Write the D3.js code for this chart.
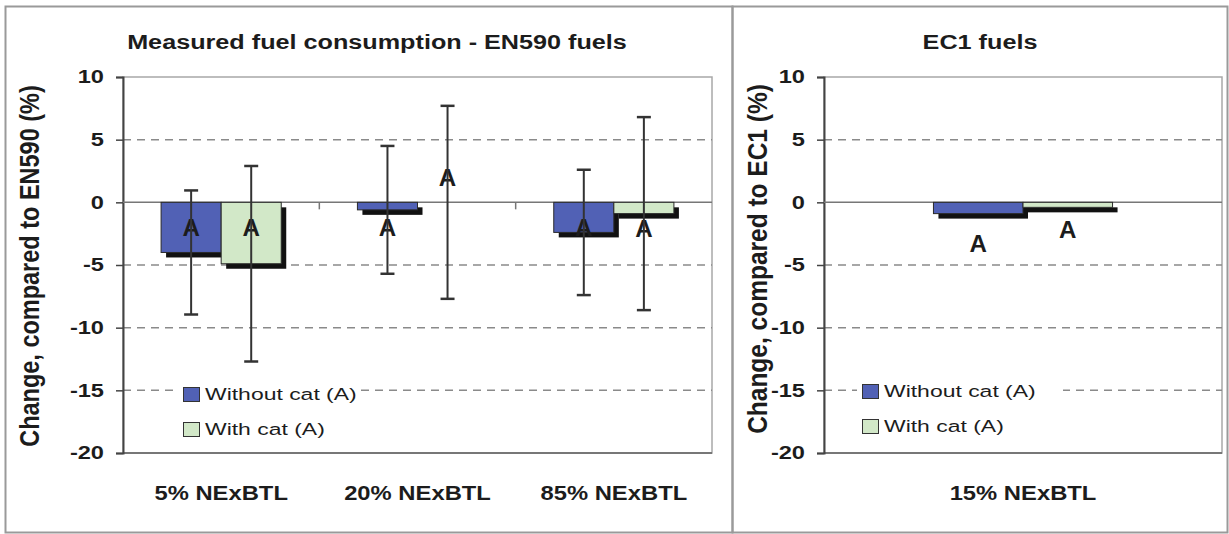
<!DOCTYPE html>
<meta charset="utf-8">
<style>
body { margin: 0; background: #fff; }
svg { display: block; }
text { font-family: "Liberation Sans", Arial, Helvetica, sans-serif; fill: #1c1c1c; }
.bold { font-weight: bold; }
</style>
<svg width="1229" height="534"></svg>
<script src="https://cdn.jsdelivr.net/npm/d3@7/dist/d3.min.js"></script>
<script>

// EN590 panel
var categoriesEN = ["5% NExBTL", "20% NExBTL", "85% NExBTL"];
var withoutCatEN = [-4.0, -0.6, -2.4];
var withCatEN = [-4.9, 0.0, -0.9];
var errWithoutEN = [4.95, 5.1, 5.0];
var errWithEN = [7.8, 7.7, 7.7];
var labelWithoutEN = [-2.0, -2.0, -2.0];
var labelWithEN = [-2.0, 2.0, -2.1];

// EC1 panel
var categoriesEC = ["15% NExBTL"];
var withoutCatEC = [-0.9];
var withCatEC = [-0.4];
var labelWithoutEC = [-3.3];
var labelWithEC = [-2.2];

var yTicks = [10, 5, 0, -5, -10, -15, -20];
var seriesNames = ["Without cat (A)", "With cat (A)"];
var seriesColors = ["#5161b5", "#d2e8c8"];

var svg = d3.select("svg");

// text helper, the source picture is stretched a little horizontally
function txt(g, x, y, s, size, sx, opts) {
  opts = opts || {};
  var t = g.append("text")
      .attr("transform", "translate(" + x + "," + y + ") scale(" + sx + ",1)" + (opts.rotate ? " rotate(-90)" : ""))
      .attr("class", opts.bold === false ? null : "bold")
      .style("font-size", size + "px")
      .attr("text-anchor", opts.anchor || "middle")
      .text(s);
  if (opts.dy) t.attr("dy", opts.dy);
  return t;
}

// panel frames
svg.append("rect").attr("x", 5.5).attr("y", 6.5).attr("width", 727).attr("height", 526)
    .attr("fill", "none").attr("stroke", "#9a9a9a").attr("stroke-width", 2);
svg.append("rect").attr("x", 732.5).attr("y", 6.5).attr("width", 495).attr("height", 526)
    .attr("fill", "none").attr("stroke", "#9a9a9a").attr("stroke-width", 2);

function panel(cfg) {
  var g = svg.append("g");
  var y = d3.scaleLinear().domain([-20, 10]).range([453, 77]);
  var x0 = d3.scaleBand().domain(cfg.categories).range([cfg.left, cfg.right]);
  var pair = x0.bandwidth() * cfg.pairFrac;
  var x1 = d3.scaleBand().domain([0, 1])
      .range([(x0.bandwidth() - pair) / 2, (x0.bandwidth() + pair) / 2]);

  // plot area border
  g.append("rect").attr("x", cfg.left).attr("y", y(10))
      .attr("width", cfg.right - cfg.left).attr("height", y(-20) - y(10))
      .attr("fill", "none").attr("stroke", "#a8a8a8").attr("stroke-width", 1.5);

  // dashed grid
  g.selectAll(".grid").data(yTicks.filter(function(d) { return d !== 0 && d !== 10 && d !== -20; }))
    .enter().append("line")
      .attr("x1", cfg.left).attr("x2", cfg.right)
      .attr("y1", function(d) { return y(d); }).attr("y2", function(d) { return y(d); })
      .attr("stroke", "#8a8a8a").attr("stroke-width", 1.5).attr("stroke-dasharray", "8,6");

  // bottom line and y axis
  g.append("line").attr("x1", cfg.left).attr("x2", cfg.right).attr("y1", y(-20)).attr("y2", y(-20))
      .attr("stroke", "#777").attr("stroke-width", 2);
  var yAxis = d3.axisLeft(y).tickValues(yTicks).tickSize(7).tickFormat("");
  var ax = g.append("g").attr("transform", "translate(" + cfg.left + ",0)").call(yAxis);
  ax.select(".domain").attr("stroke", "#444").attr("stroke-width", 2);
  ax.selectAll(".tick line").attr("stroke", "#444").attr("stroke-width", 1.5);
  yTicks.forEach(function(t) {
    txt(g, cfg.left - 19, y(t), t, 17.5, 1.35, { anchor: "end", dy: "0.36em" });
  });

  // zero line with category ticks
  g.append("line").attr("x1", cfg.left).attr("x2", cfg.right).attr("y1", y(0)).attr("y2", y(0))
      .attr("stroke", "#777").attr("stroke-width", 1.5);
  cfg.categories.slice(1).forEach(function(c) {
    g.append("line").attr("x1", x0(c)).attr("x2", x0(c)).attr("y1", y(0)).attr("y2", y(0) + 7)
        .attr("stroke", "#777").attr("stroke-width", 1.5);
  });

  // bars with drop shadow
  var series = [cfg.without, cfg.withc];
  cfg.categories.forEach(function(c, i) {
    series.forEach(function(vals, s) {
      var v = vals[i];
      if (v === 0) return;
      var bx = x0(c) + x1(s), by = y(Math.max(0, v)), bh = Math.abs(y(v) - y(0));
      g.append("rect").attr("x", bx + 5).attr("y", by + 5).attr("width", x1.bandwidth()).attr("height", bh)
          .attr("fill", "#111");
      g.append("rect").attr("x", bx).attr("y", by).attr("width", x1.bandwidth()).attr("height", bh)
          .attr("fill", seriesColors[s]).attr("stroke", "#2a2a2a").attr("stroke-width", 1);
    });
  });

  // "A" labels
  var labels = [cfg.labWithout, cfg.labWith];
  cfg.categories.forEach(function(c, i) {
    labels.forEach(function(vals, s) {
      txt(g, x0(c) + x1(s) + x1.bandwidth() / 2, y(vals[i]), "A", 23, 1.05, { dy: "0.36em" });
    });
  });

  // error bars
  if (cfg.errs) {
    cfg.categories.forEach(function(c, i) {
      series.forEach(function(vals, s) {
        var cx = x0(c) + x1(s) + x1.bandwidth() / 2;
        var lo = y(vals[i] - cfg.errs[s][i]), hi = y(vals[i] + cfg.errs[s][i]);
        g.append("line").attr("x1", cx).attr("x2", cx).attr("y1", lo).attr("y2", hi)
            .attr("stroke", "#333").attr("stroke-width", 2);
        [lo, hi].forEach(function(yy) {
          g.append("line").attr("x1", cx - 7).attr("x2", cx + 7).attr("y1", yy).attr("y2", yy)
              .attr("stroke", "#333").attr("stroke-width", 2.5);
        });
      });
    });
  }

  // category labels
  cfg.categories.forEach(function(c) {
    txt(g, x0(c) + x0.bandwidth() / 2, 500, c, 19.5, 1.22);
  });

  // titles
  txt(g, cfg.titleX, 49, cfg.title, 21, 1.2);
  txt(g, cfg.yTitleX, cfg.yTitleY, cfg.yTitle, cfg.yTitleSize, 1.15, { rotate: true });

  // legend
  var lg = g.append("g").attr("transform", "translate(" + cfg.legendX + "," + cfg.legendY + ")");
  lg.append("rect").attr("x", 0).attr("y", 0).attr("width", cfg.legendW).attr("height", 66).attr("fill", "#fff");
  seriesNames.forEach(function(n, s) {
    lg.append("rect").attr("x", 5.5).attr("y", 9.5 + s * 35).attr("width", 16).attr("height", 14)
        .attr("fill", seriesColors[s]).attr("stroke", "#333").attr("stroke-width", 1);
    txt(lg, 27, 22 + s * 35, n, 17, 1.35, { anchor: "start", bold: false });
  });
}

panel({
  categories: categoriesEN, without: withoutCatEN, withc: withCatEN,
  errs: [errWithoutEN, errWithEN], labWithout: labelWithoutEN, labWith: labelWithEN,
  left: 123, right: 712, pairFrac: 0.612,
  title: "Measured fuel consumption - EN590 fuels", titleX: 377,
  yTitle: "Change, compared to EN590 (%)", yTitleX: 39, yTitleY: 266, yTitleSize: 23.5,
  legendX: 178, legendY: 378, legendW: 182
});

panel({
  categories: categoriesEC, without: withoutCatEC, withc: withCatEC,
  errs: null, labWithout: labelWithoutEC, labWith: labelWithEC,
  left: 824, right: 1222, pairFrac: 0.45,
  title: "EC1 fuels", titleX: 980,
  yTitle: "Change, compared to EC1 (%)", yTitleX: 767, yTitleY: 259, yTitleSize: 24.5,
  legendX: 857, legendY: 375, legendW: 206
});

</script>
